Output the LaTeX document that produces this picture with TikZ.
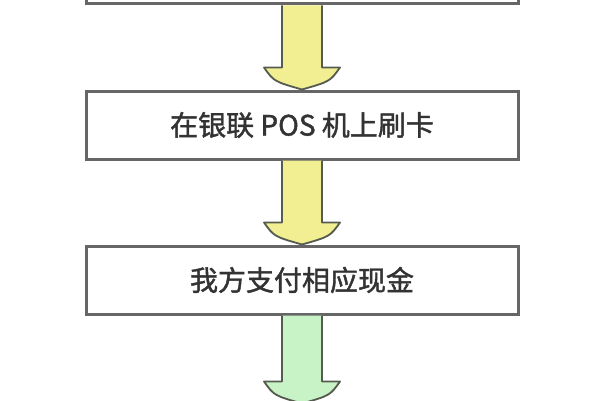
\documentclass[tikz,border=0pt]{standalone}
\usepackage{fontspec}
\newfontfamily\cjk[FakeBold=1.5]{Noto Sans CJK SC}
\usetikzlibrary{calc}

\definecolor{boxline}{HTML}{666666}
\definecolor{arrowline}{HTML}{555B4E}
\definecolor{textgray}{HTML}{333333}
\definecolor{paleyellow}{HTML}{F2EE92}
\definecolor{palegreen}{HTML}{C8F3C6}

% fat down arrow from one box to the next
\newcommand{\fatarrow}[3]{%
	\filldraw[fill=#3,draw=arrowline,line width=1.8pt,line join=round]
	($(#1)+(-20pt,0)$) -- ($(#2)+(-20pt,22pt)$) -- ($(#2)+(-38pt,22pt)$)
	.. controls ($(#2)+(-28pt,8pt)$) .. (#2)
	.. controls ($(#2)+(28pt,8pt)$) .. ($(#2)+(38pt,22pt)$)
	-- ($(#2)+(20pt,22pt)$) -- ($(#1)+(20pt,0)$);}

\begin{document}
\begin{tikzpicture}[x=1pt,y=1pt,node distance=155pt]
	\tikzstyle{flowbox}=[draw=boxline,line width=3pt,fill=white,text=textgray,
	minimum width=432pt,minimum height=68pt,inner sep=0pt,
	font=\cjk\fontsize{28}{32}\selectfont]
	\useasboundingbox[fill=white] (0,0) rectangle (600,400);
	
	\node[flowbox] (swipe) at (302,275) {在银联 POS 机上刷卡};
	\node[flowbox] (prev) [above of=swipe] {};
	\node[flowbox] (cash) [below of=swipe] {我方支付相应现金};
	\coordinate (next) at ($(cash.south)+(0,-88pt)$);
	
	\fatarrow{prev.south}{swipe.north}{paleyellow}
	\fatarrow{swipe.south}{cash.north}{paleyellow}
	\fatarrow{cash.south}{next}{palegreen}
\end{tikzpicture}
\end{document}
